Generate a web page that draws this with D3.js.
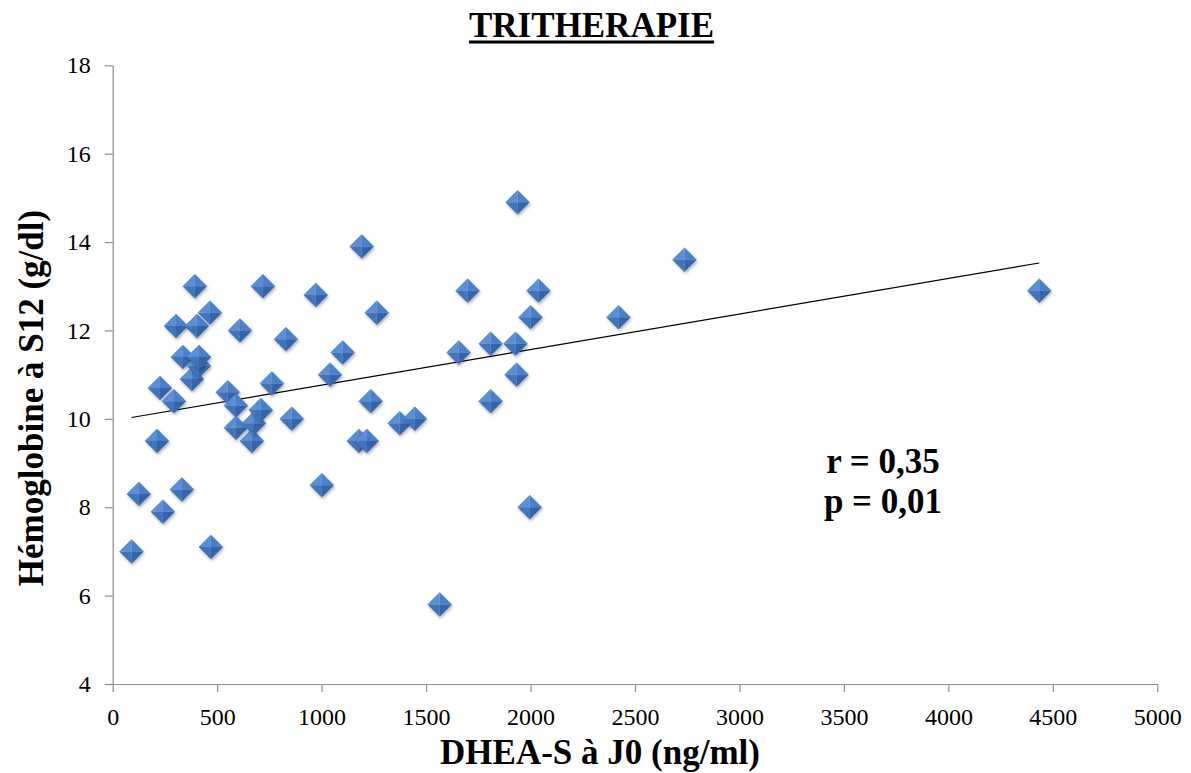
<!DOCTYPE html>
<html>
<head>
<meta charset="utf-8">
<script src="https://cdn.jsdelivr.net/npm/d3@7/dist/d3.min.js"></script>
<style>
  html, body { margin: 0; padding: 0; background: #fff; }
  svg { display: block; font-family: "Liberation Serif", "Times New Roman", serif; }
  svg text { font-family: "Liberation Serif", "Times New Roman", serif; }
</style>
</head>
<body>
<svg id="chart" width="1191" height="773"></svg>
<script>
// ---- Data ----
const dheaS = [90,125,226,212,240,293,303,331,336,379,393,403,413,413,465,470,551,590,590,609,666,676,709,719,762,829,857,972,1001,1040,1101,1192,1178,1216,1235,1264,1374,1446,1565,1656,1699,1809,1809,1928,1933,1938,1996,2000,2038,2421,2737,4435];
const hemoglobin = [7.0,8.3,10.7,9.5,7.9,10.4,12.1,8.4,11.4,10.9,13.0,12.1,11.2,11.4,12.4,7.1,10.6,10.3,9.8,12.0,9.5,9.9,10.2,13.0,10.8,11.8,10.0,12.8,8.5,11.0,11.5,13.9,9.5,9.5,10.4,12.4,9.9,10.0,5.8,11.5,12.9,11.7,10.4,11.7,11.0,14.9,8.0,12.3,12.9,12.3,13.6,12.9];
const xTicks = [0,500,1000,1500,2000,2500,3000,3500,4000,4500,5000];
const yTicks = [4,6,8,10,12,14,16,18];
const trendSlope = 0.000805;
const trendIntercept = 9.957;
const titleText = "TRITHERAPIE";
const xLabel = "DHEA-S à J0 (ng/ml)";
const yLabel = "Hémoglobine à S12 (g/dl)";
const statsLines = ["r = 0,35", "p = 0,01"];

const points = dheaS.map((d, i) => ({x: d, y: hemoglobin[i]}));

const svg = d3.select("#chart");
const x = d3.scaleLinear().domain([0, 5000]).range([112.7, 1157.3]);
const y = d3.scaleLinear().domain([4, 18]).range([684, 65.3]);

const axisColor = "#8c8c8c";
const serif = '"Liberation Serif", "Times New Roman", serif';

// defs: drop shadow
const defs = svg.append("defs");
const f = defs.append("filter").attr("id", "shadow").attr("x", "-50%").attr("y", "-50%").attr("width", "200%").attr("height", "200%");
f.append("feDropShadow").attr("dx", 1).attr("dy", 2).attr("stdDeviation", 1.4)
  .attr("flood-color", "#000").attr("flood-opacity", 0.3);

// Axes
const xAxis = d3.axisBottom(x).tickValues(xTicks).tickFormat(d3.format("d")).tickSize(8).tickSizeOuter(0).tickPadding(10);
const yAxis = d3.axisLeft(y).tickValues(yTicks).tickFormat(d3.format("d")).tickSize(8).tickSizeOuter(0).tickPadding(14);

const gx = svg.append("g").attr("transform", `translate(0,${y(4)})`).call(xAxis);
const gy = svg.append("g").attr("transform", `translate(${x(0)},0)`).call(yAxis);
[gx, gy].forEach(g => {
  g.attr("font-family", serif).attr("font-size", 24);
  g.select(".domain").attr("stroke", axisColor).attr("stroke-width", 1.2);
  g.selectAll(".tick line").attr("stroke", axisColor).attr("stroke-width", 1.2);
  g.selectAll(".tick text").attr("fill", "#000")
    .attr("font-family", serif).attr("font-size", 24);
});
gx.selectAll(".tick text").attr("dy", "0.95em");

// Trend line
const xMin = d3.min(dheaS), xMax = d3.max(dheaS);
svg.append("line")
  .attr("x1", x(xMin)).attr("y1", y(trendIntercept + trendSlope * xMin))
  .attr("x2", x(xMax)).attr("y2", y(trendIntercept + trendSlope * xMax))
  .attr("stroke", "#000").attr("stroke-width", 1.1);

// Markers (beveled diamonds)
const s = 12;
const facets = [
  {d: `M0,${-s} L${-s},0 L0,0 Z`, fill: "#5a8fd6"},
  {d: `M0,${-s} L${s},0 L0,0 Z`, fill: "#4a80c9"},
  {d: `M${-s},0 L0,${s} L0,0 Z`, fill: "#3f74bb"},
  {d: `M${s},0 L0,${s} L0,0 Z`, fill: "#3465a8"}
];
const mk = svg.append("g").selectAll("g.pt").data(points).join("g")
  .attr("class", "pt")
  .attr("transform", d => `translate(${x(d.x)},${y(d.y)})`)
  .attr("filter", "url(#shadow)");
mk.selectAll("path").data(facets).join("path")
  .attr("d", d => d.d).attr("fill", d => d.fill);
mk.append("path")
  .attr("d", `M0,${-s} L${s},0 L0,${s} L${-s},0 Z`)
  .attr("fill", "none").attr("stroke", "#3a6fb5").attr("stroke-width", 0.6).attr("stroke-opacity", 0.7);

// Title
const title = svg.append("text")
  .attr("x", 591.5).attr("y", 36.7).attr("text-anchor", "middle")
  .attr("font-family", serif).attr("font-size", 35).attr("font-weight", "bold").attr("fill", "#000")
  .text(titleText);
const tb = title.node().getBBox();
svg.append("rect").attr("x", tb.x).attr("y", 40.5).attr("width", tb.width).attr("height", 3).attr("fill", "#000");

// Axis labels
svg.append("text")
  .attr("x", 600).attr("y", 764).attr("text-anchor", "middle")
  .attr("font-family", serif).attr("font-size", 35).attr("font-weight", "bold").attr("fill", "#000")
  .text(xLabel);
svg.append("text")
  .attr("transform", "translate(43,398) rotate(-90)").attr("text-anchor", "middle")
  .attr("font-family", serif).attr("font-size", 35).attr("font-weight", "bold").attr("fill", "#000")
  .text(yLabel);

// Stats annotation
svg.append("g").selectAll("text").data(statsLines).join("text")
  .attr("x", 883).attr("y", (d, i) => 473 + i * 40).attr("text-anchor", "middle")
  .attr("font-family", serif).attr("font-size", 35).attr("font-weight", "bold").attr("fill", "#000")
  .text(d => d);
</script>
</body>
</html>
